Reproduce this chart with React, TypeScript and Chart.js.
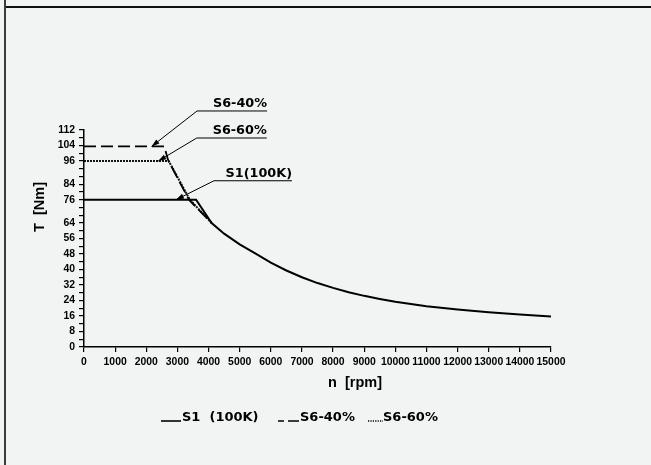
import React, { useEffect, useRef } from 'react';
import { Chart, registerables } from 'chart.js';

Chart.register(...registerables);

// ---- data ----
const s1Speed = [0, 3600, 4100, 4500, 5000, 5500, 6000, 6500, 7000, 7500, 8000, 8500, 9000, 9500, 10000, 11000, 12000, 13000, 14000, 15000];
const s1Torque = [76, 76, 64, 58.5, 53, 48.3, 43.5, 39.5, 36, 33, 30.5, 28.3, 26.4, 24.8, 23.3, 21, 19.3, 17.9, 16.8, 15.8];

const s640Speed = [0, 2580, 2700, 3370, 4100];
const s640Torque = [103.5, 103.5, 96.5, 76, 64];

const s660Speed = [0, 2720, 3400, 4100];
const s660Torque = [96, 96, 76, 64];

const xTickStep = 1000;
const yTickStep = 4;
const yLabeled = [0, 8, 16, 24, 32, 40, 48, 56, 64, 76, 84, 96, 104, 112];

const noteLabels = ['S6-40%', 'S6-60%', 'S1(100K)'];
const noteSpeed = [2170, 2385, 2955];
const noteTorque = [103.5, 96, 76];

const legendLabels = ['S1  (100K)', 'S6-40%', 'S6-60%'];

// ---- styles / layout ----
const W = 651;
const H = 465;
const BG = '#f2f3f3';
const TICK_FONT = { family: '"Liberation Sans", Arial, sans-serif', weight: 'bold' as const, size: 10.4 };
const LABEL_FONT = 'bold 12.8px "DejaVu Sans", sans-serif';
const TITLE_FONT = 'bold 14.5px "Liberation Sans", Arial, sans-serif';
const noteOffsets = [
  { dx: 45.5, dy: -35.5, len: 70 },
  { dx: 38.5, dy: -23, len: 70 },
  { dx: 38, dy: -19, len: 78 },
];

const toXY = (xs: number[], ys: number[]) => xs.map((x, i) => ({ x, y: ys[i] }));

const overlayPlugin = {
  id: 'overlay',
  afterDraw(chart: any) {
    const ctx: CanvasRenderingContext2D = chart.ctx;
    const xs = chart.scales.x;
    const ys = chart.scales.y;
    ctx.save();
    ctx.fillStyle = '#000';
    ctx.strokeStyle = '#000';

    // axis titles
    ctx.font = TITLE_FONT;
    ctx.textAlign = 'center';
    ctx.textBaseline = 'middle';
    ctx.fillText('n  [rpm]', 355, 383);
    ctx.save();
    ctx.translate(40, 207);
    ctx.rotate(-Math.PI / 2);
    ctx.fillText('T  [Nm]', 0, 0);
    ctx.restore();

    // annotations with leaders
    ctx.font = LABEL_FONT;
    ctx.lineWidth = 1;
    noteLabels.forEach((label, i) => {
      const tx = xs.getPixelForValue(noteSpeed[i]);
      const ty = ys.getPixelForValue(noteTorque[i]);
      const o = noteOffsets[i];
      const ex = tx + o.dx;
      const ey = ty + o.dy;
      ctx.beginPath();
      ctx.moveTo(tx, ty);
      ctx.lineTo(ex, ey);
      ctx.lineTo(ex + o.len, ey);
      ctx.stroke();
      const ang = Math.atan2(ey - ty, ex - tx);
      const al = 8;
      const aw = 2.6;
      const bx = tx + Math.cos(ang) * al;
      const by = ty + Math.sin(ang) * al;
      ctx.beginPath();
      ctx.moveTo(tx, ty);
      ctx.lineTo(bx - Math.sin(ang) * aw, by + Math.cos(ang) * aw);
      ctx.lineTo(bx + Math.sin(ang) * aw, by - Math.cos(ang) * aw);
      ctx.closePath();
      ctx.fill();
      ctx.textAlign = 'right';
      ctx.textBaseline = 'alphabetic';
      ctx.fillText(label, ex + o.len, ey - 4);
    });

    // legend
    ctx.font = 'bold 13px "DejaVu Sans", sans-serif';
    ctx.textAlign = 'left';
    ctx.textBaseline = 'alphabetic';
    const base = 421;
    ctx.lineWidth = 1.6;
    ctx.beginPath();
    ctx.moveTo(161, base);
    ctx.lineTo(181, base);
    ctx.stroke();
    ctx.fillText(legendLabels[0], 182, base);
    ctx.beginPath();
    ctx.moveTo(278, base);
    ctx.lineTo(284, base);
    ctx.moveTo(288, base);
    ctx.lineTo(299, base);
    ctx.stroke();
    ctx.fillText(legendLabels[1], 300, base);
    ctx.setLineDash([1.2, 1.2]);
    ctx.lineWidth = 1.3;
    ctx.beginPath();
    ctx.moveTo(368, base);
    ctx.lineTo(383, base);
    ctx.stroke();
    ctx.setLineDash([]);
    ctx.fillText(legendLabels[2], 383, base);
    ctx.restore();
  },
};

export default function App() {
  const ref = useRef<HTMLCanvasElement | null>(null);

  useEffect(() => {
    document.body.style.margin = '0';
    document.body.style.background = BG;
    document.body.style.overflow = 'hidden';
    document.documentElement.style.overflow = 'hidden';
    const canvas = ref.current;
    if (!canvas) return;
    const chart = new Chart(canvas, {
      type: 'line',
      data: {
        datasets: [
          {
            label: 'S1 (100K)',
            data: toXY(s1Speed, s1Torque),
            borderColor: '#000',
            borderWidth: 2,
            pointRadius: 0,
            tension: 0,
            fill: false,
          },
          {
            label: 'S6-40%',
            data: toXY(s640Speed, s640Torque),
            borderColor: '#000',
            borderWidth: 1.8,
            borderDash: [12, 5],
            pointRadius: 0,
            tension: 0,
            fill: false,
          },
          {
            label: 'S6-60%',
            data: toXY(s660Speed, s660Torque),
            borderColor: '#111',
            borderWidth: 2,
            borderDash: [2, 1],
            pointRadius: 0,
            tension: 0,
            fill: false,
          },
        ],
      },
      options: {
        animation: false,
        responsive: false,
        maintainAspectRatio: false,
        devicePixelRatio: 1,
        layout: { padding: { left: 0, right: W - 551, top: 130, bottom: 0 } },
        plugins: { legend: { display: false }, tooltip: { enabled: false } },
        scales: {
          x: {
            type: 'linear',
            min: 0,
            max: 15000,
            afterFit: (s: any) => {
              s.height = H - 347;
            },
            grid: { drawOnChartArea: false, drawTicks: true, tickLength: 5, color: '#000', lineWidth: 1.2 },
            border: { display: true, color: '#000', width: 1.5 },
            ticks: {
              stepSize: xTickStep,
              autoSkip: false,
              maxRotation: 0,
              padding: 4,
              color: '#000',
              font: TICK_FONT,
              callback: (v: any) => String(v),
            },
          },
          y: {
            type: 'linear',
            min: 0,
            max: 112,
            afterFit: (s: any) => {
              s.width = 84;
            },
            grid: { drawOnChartArea: false, drawTicks: true, tickLength: 5, color: '#000', lineWidth: 1.2 },
            border: { display: true, color: '#000', width: 1.5 },
            ticks: {
              stepSize: yTickStep,
              autoSkip: false,
              padding: 4,
              color: '#000',
              font: TICK_FONT,
              callback: (v: any) => (yLabeled.includes(Number(v)) ? String(v) : ''),
            },
          },
        },
      },
      plugins: [overlayPlugin],
    });
    return () => chart.destroy();
  }, []);

  return (
    <div style={{ position: 'relative', width: W, height: H, background: BG, overflow: 'hidden' }}>
      <canvas ref={ref} width={W} height={H} style={{ position: 'absolute', left: 0, top: 0, width: W, height: H }} />
      <div style={{ position: 'absolute', left: 4, top: 0, width: 2, height: H, background: '#3c3c3c' }} />
      <div style={{ position: 'absolute', left: 6, top: 6, width: W - 6, height: 2, background: '#111' }} />
    </div>
  );
}
